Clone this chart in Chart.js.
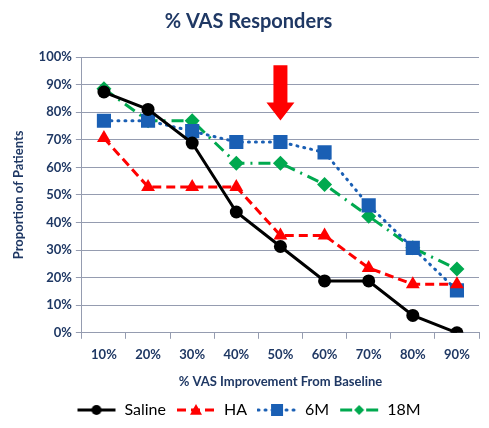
<!DOCTYPE html>
<html>
<head>
<meta charset="utf-8">
<script src="https://cdn.jsdelivr.net/npm/chart.js@4.4.1/dist/chart.umd.min.js"></script>
<style>
    html, body { margin: 0; padding: 0; background: #fff; }
    #wrap { width: 489px; height: 428px; }
</style>
</head>
<body>
<div id="wrap"><canvas id="vasChart" width="489" height="428"></canvas></div>
<script>
const categories = ['10%', '20%', '30%', '40%', '50%', '60%', '70%', '80%', '90%'];
const saline = [87.3, 81.0, 68.8, 43.8, 31.3, 18.8, 18.8, 6.3, 0];
const ha = [70.6, 52.9, 52.9, 52.9, 35.3, 35.3, 23.5, 17.6, 17.6];
const sixM = [76.9, 76.9, 73.1, 69.2, 69.2, 65.4, 46.2, 30.8, 15.4];
const eighteenM = [88.5, 76.9, 76.9, 61.5, 61.5, 53.8, 42.3, 30.8, 23.1];
// arrow marks the 50% threshold
const arrowCategory = 4;
const arrowFrom = 97;
const arrowTo = 77;

const navy = '#1F3864';
const gridColor = '#959CB0';

// small canvas with a line sample + marker for the legend
function legendIcon(color, dash, style, size) {
    const c = document.createElement('canvas');
    c.width = 40;
    c.height = 16;
    const g = c.getContext('2d');
    g.strokeStyle = color;
    g.fillStyle = color;
    g.lineWidth = 3;
    g.lineCap = style === 'rect' ? 'round' : 'butt';
    g.setLineDash(dash);
    g.beginPath();
    g.moveTo(1, 8);
    g.lineTo(39, 8);
    g.stroke();
    g.setLineDash([]);
    g.beginPath();
    if (style === 'circle') {
        g.arc(20, 8, size, 0, Math.PI * 2);
    } else if (style === 'triangle') {
        g.moveTo(20, 8 - size);
        g.lineTo(20 + size, 8 + size * 0.8);
        g.lineTo(20 - size, 8 + size * 0.8);
        g.closePath();
    } else if (style === 'rect') {
        g.rect(20 - size, 8 - size, size * 2, size * 2);
    } else {
        g.moveTo(20, 8 - size);
        g.lineTo(20 + size, 8);
        g.lineTo(20, 8 + size);
        g.lineTo(20 - size, 8);
        g.closePath();
    }
    g.fill();
    return c;
}

const arrowPlugin = {
    id: 'arrow',
    afterDatasetsDraw(chart) {
        const { ctx, scales } = chart;
        const x = scales.x.getPixelForValue(arrowCategory);
        const y1 = scales.y.getPixelForValue(arrowFrom);
        const y2 = scales.y.getPixelForValue(arrowTo);
        const shaftW = 7;
        const headW = 14;
        const headH = 18;
        ctx.save();
        ctx.fillStyle = '#FF0000';
        ctx.beginPath();
        ctx.moveTo(x - shaftW, y1);
        ctx.lineTo(x + shaftW, y1);
        ctx.lineTo(x + shaftW, y2 - headH);
        ctx.lineTo(x + headW, y2 - headH);
        ctx.lineTo(x, y2);
        ctx.lineTo(x - headW, y2 - headH);
        ctx.lineTo(x - shaftW, y2 - headH);
        ctx.closePath();
        ctx.fill();
        ctx.restore();
    }
};

const series = [
    { label: 'Saline', data: saline, color: '#000000', dash: [], style: 'circle', radius: 6.5, icon: 5 },
    { label: 'HA', data: ha, color: '#FF0000', dash: [9, 5], style: 'triangle', radius: 8, icon: 6 },
    { label: '6M', data: sixM, color: '#1A5FB4', dash: [1, 6], style: 'rect', radius: 10, icon: 6 },
    { label: '18M', data: eighteenM, color: '#00A94F', dash: [12, 6, 2, 6], style: 'rectRot', radius: 7.5, icon: 5 }
];

const datasets = series.map(s => ({
    label: s.label,
    data: s.data,
    borderColor: s.color,
    backgroundColor: s.color,
    borderWidth: 3,
    borderDash: s.dash,
    borderCapStyle: s.style === 'rect' ? 'round' : 'butt',
    pointStyle: s.style,
    pointRadius: s.radius,
    pointBorderWidth: 0,
    pointHoverRadius: s.radius,
    tension: 0,
    legendIcon: legendIcon(s.color, s.dash, s.style, s.icon)
}));

new Chart(document.getElementById('vasChart'), {
    type: 'line',
    data: { labels: categories, datasets: datasets },
    plugins: [arrowPlugin],
    options: {
        responsive: false,
        animation: false,
        layout: { padding: { left: 11, right: 3, top: 0, bottom: 0 } },
        plugins: {
            title: {
                display: true,
                text: '% VAS Responders',
                color: navy,
                font: { family: 'Lato', size: 20, weight: 'bold' },
                padding: { top: 10, bottom: 23 }
            },
            legend: {
                position: 'bottom',
                labels: {
                    usePointStyle: true,
                    pointStyleWidth: 40,
                    color: '#000',
                    font: { family: 'Lato', size: 16 },
                    padding: 10,
                    boxHeight: 16,
                    generateLabels(chart) {
                        return chart.data.datasets.map((d, i) => ({
                            text: d.label,
                            pointStyle: d.legendIcon,
                            fillStyle: d.borderColor,
                            strokeStyle: d.borderColor,
                            lineWidth: 0,
                            hidden: false,
                            datasetIndex: i,
                            fontColor: '#000'
                        }));
                    }
                }
            },
            tooltip: { enabled: false }
        },
        scales: {
            x: {
                offset: true,
                grid: {
                    offset: true,
                    drawOnChartArea: false,
                    drawTicks: true,
                    tickLength: 6,
                    color: gridColor
                },
                border: { color: gridColor, width: 1 },
                ticks: { color: navy, font: { family: 'Lato', size: 13, weight: 'bold' }, padding: 8 },
                title: {
                    display: true,
                    text: '% VAS Improvement From Baseline',
                    color: navy,
                    font: { family: 'Lato', size: 13, weight: 'bold' },
                    padding: { top: 4, bottom: 2 }
                }
            },
            y: {
                min: 0,
                max: 100,
                ticks: {
                    stepSize: 10,
                    color: navy,
                    font: { family: 'Lato', size: 13, weight: 'bold' },
                    padding: 4,
                    callback: v => v + '%'
                },
                grid: { color: gridColor, tickLength: 6, lineWidth: 1 },
                border: { color: gridColor, width: 1 },
                title: {
                    display: true,
                    text: 'Proportion of Patients',
                    color: navy,
                    font: { family: 'Lato', size: 13, weight: 'bold' },
                    padding: { top: 0, bottom: 8 }
                }
            }
        }
    }
});
</script>
</body>
</html>
